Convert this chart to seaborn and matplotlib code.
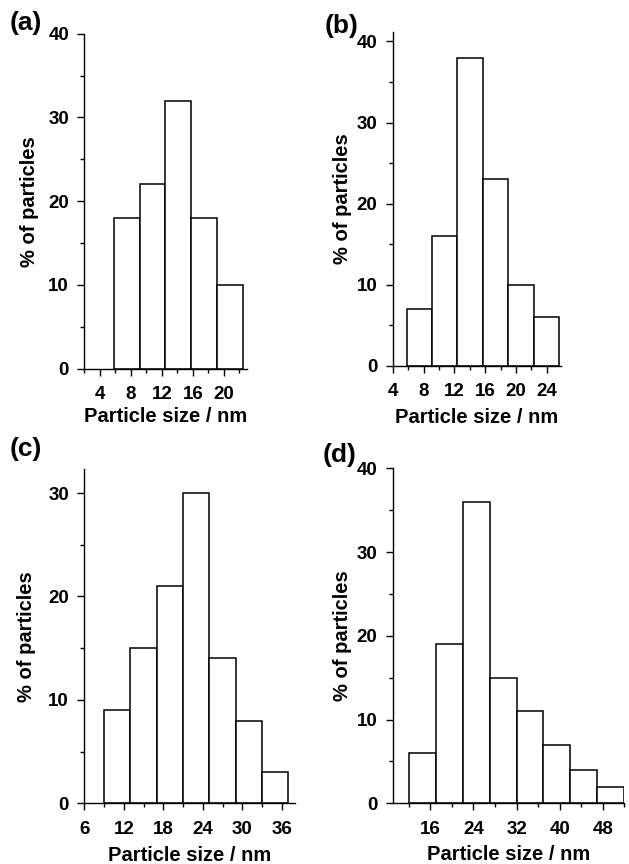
import numpy as np
import matplotlib.pyplot as plt
from matplotlib.ticker import MultipleLocator
import seaborn as sns

# bin edges (nm) and % of particles
edges_a = [5.8, 9.13, 12.47, 15.8, 19.13, 22.47]
pct_a = [18, 22, 32, 18, 10]

edges_b = [5.8, 9.1, 12.4, 15.7, 19.0, 22.3, 25.6]
pct_b = [7, 16, 38, 23, 10, 6]

edges_c = [9, 13, 17, 21, 25, 29, 33, 37]
pct_c = [9, 15, 21, 30, 14, 8, 3]

edges_d = [12, 17, 22, 27, 32, 37, 42, 47, 52]
pct_d = [6, 19, 36, 15, 11, 7, 4, 2]

sns.set_style("ticks")
plt.rcParams['font.family'] = ['Liberation Sans', 'DejaVu Sans']
plt.rcParams['font.weight'] = 'bold'
plt.rcParams['text.color'] = 'black'
plt.rcParams['axes.labelcolor'] = 'black'
plt.rcParams['xtick.color'] = 'black'
plt.rcParams['ytick.color'] = 'black'
plt.rcParams['axes.edgecolor'] = 'black'

fig = plt.figure(figsize=(6.29, 8.64), dpi=100)

panels = [
    # edges, values, rect, xlim, ylim, x major, x minor, letter, letter pos, xpad, ypad
    (edges_a, pct_a, [0.134, 0.5733, 0.2587, 0.3877], (2, 23), (0, 40), 4, 2, "(a)", (0.015, 0.973), 3, 7),
    (edges_b, pct_b, [0.6243, 0.5767, 0.2671, 0.3866], (4, 25.8), (0, 41.2), 4, 2, "(b)", (0.516, 0.970), 6, 3),
    (edges_c, pct_c, [0.134, 0.0703, 0.335, 0.3866], (6, 38), (0, 32.3), 6, 3, "(c)", (0.015, 0.480), 6, 9),
    (edges_d, pct_d, [0.6243, 0.0703, 0.3682, 0.3877], (9, 52), (0, 40), 8, 4, "(d)", (0.5125, 0.4734), 5, 3),
]

for edges, pct, rect, xlim, ylim, xmaj, xmin, letter, lpos, xpad, ypad in panels:
    ax = fig.add_axes(rect)
    centers = [(edges[i] + edges[i + 1]) / 2 for i in range(len(pct))]
    sns.histplot(x=centers, weights=pct, bins=edges, color="white",
                 edgecolor="black", linewidth=1.1, alpha=1, ax=ax)
    ax.set_xlim(*xlim)
    ax.set_ylim(*ylim)
    ax.xaxis.set_major_locator(MultipleLocator(xmaj))
    ax.xaxis.set_minor_locator(MultipleLocator(xmin))
    ax.yaxis.set_major_locator(MultipleLocator(10))
    ax.yaxis.set_minor_locator(MultipleLocator(5))
    ax.tick_params(which="major", length=5, width=1, labelsize=13.5)
    ax.tick_params(axis="x", which="major", pad=7.5)
    ax.tick_params(axis="y", which="major", pad=6)
    ax.tick_params(which="minor", length=3, width=1)
    for s in ["left", "bottom"]:
        ax.spines[s].set_linewidth(1)
    sns.despine(ax=ax)
    ax.set_xlabel("Particle size / nm", fontsize=14.5, fontweight="bold", labelpad=xpad)
    ax.set_ylabel("% of particles", fontsize=14.5, fontweight="bold", labelpad=ypad)
    fig.text(lpos[0], lpos[1], letter, fontsize=19, fontweight="bold", va="center", ha="left")

plt.savefig("out.png", dpi=100)
plt.close()
